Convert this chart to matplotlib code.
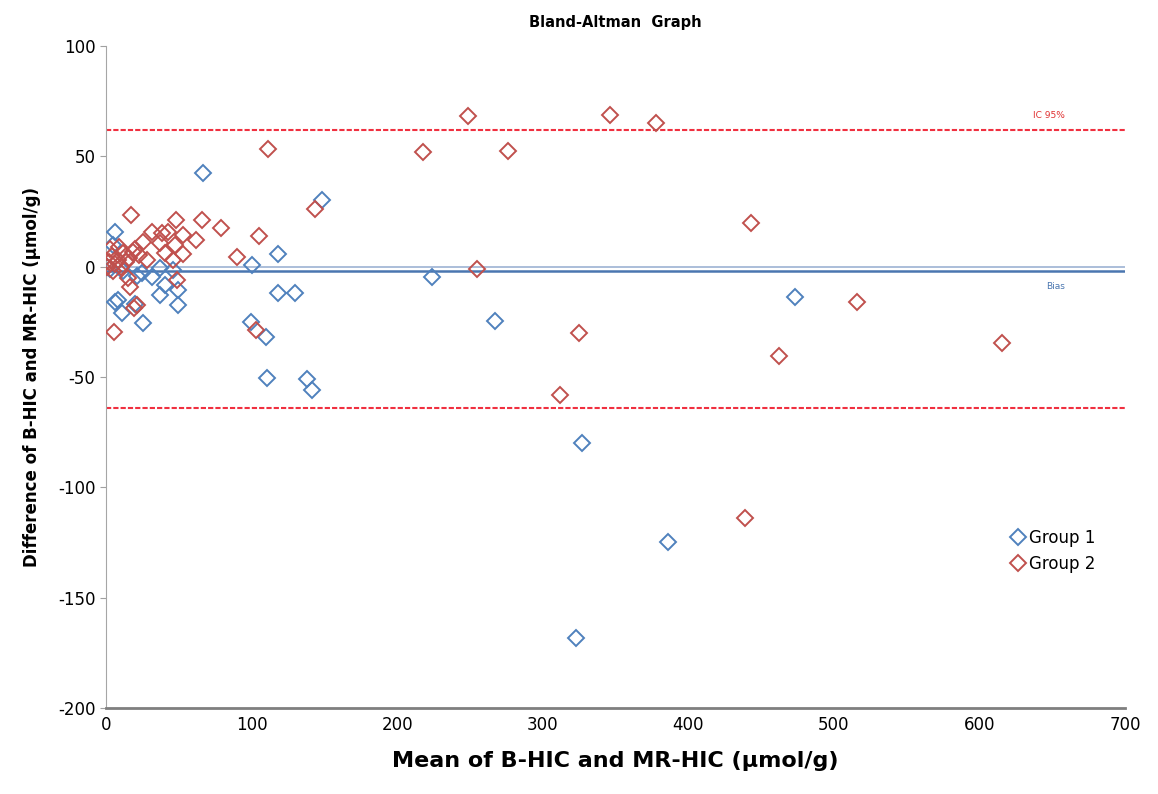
import matplotlib
matplotlib.use("Agg")
import matplotlib.pyplot as plt

plt.rcParams['axes.unicode_minus'] = False

# Group 1 (blue) : mean vs difference
g1_mean = [66.8, 148.6, 6.2, 4.5, 118.3, 100.0, 0.5, 37.0, 46.0, 31.4, 21.0,
           40.5, 49.7, 37.0, 49.7, 8.5, 6.2, 20.0, 10.8, 25.2, 3.0, 12.0, 25.0,
           118.3, 130.0, 99.5, 109.8, 110.9, 138.4, 141.2, 224.0, 267.0,
           473.0, 327.0, 386.0, 323.0]
g1_diff = [42.3, 30.2, 15.9, 10.0, 5.8, 0.8, 0.0, -0.7, -1.5, -4.5, -4.0,
           -8.3, -10.5, -12.8, -17.4, -15.0, -16.0, -17.0, -21.0, -25.4, -1.0, -2.0, -3.0,
           -11.8, -12.0, -25.2, -31.7, -50.6, -51.0, -55.9, -4.5, -24.5,
           -13.9, -80.0, -124.6, -168.1]

# Group 2 (red)
g2_mean = [249.0, 218.0, 276.0, 346.0, 377.5, 111.0, 143.5, 17.0, 48.0, 65.7,
           79.0, 105.3, 89.8, 31.4, 38.2, 42.8, 53.1, 61.8, 25.6, 47.4, 37.1,
           53.1, 40.5, 46.2, 18.8, 11.9, 28.0, 23.0, 2.0, 4.0, 6.0, 8.0, 3.0,
           10.0, 5.0, 14.0, 9.0, 16.0, 20.0, 1.0, 48.5, 16.5, 15.3, 21.0, 19.0,
           5.5, 103.4, 255.0, 443.0, 516.0, 462.0, 615.6, 325.0, 312.0, 439.0]
g2_diff = [68.3, 51.8, 52.6, 68.7, 65.3, 53.5, 26.0, 23.4, 21.2, 21.2,
           17.7, 13.9, 4.5, 15.9, 15.1, 15.9, 14.4, 12.1, 11.3, 9.8, 10.6,
           5.8, 6.1, 3.0, 6.8, 6.1, 3.0, 5.5, 2.0, 5.0, 1.0, 3.0, 8.0,
           0.0, -2.0, 2.0, 9.0, 4.0, 8.0, 0.0, -6.0, -9.0, -5.3, -17.4, -18.9,
           -29.4, -28.7, -1.2, 20.0, -15.9, -40.3, -34.7, -30.2, -58.1, -114.0]

bias = -2.0
upper_loa = 62.0
lower_loa = -64.0

blue = "#4f81bd"
red = "#c0504d"

fig = plt.figure(figsize=(11.58, 7.94), dpi=100)
ax = fig.add_axes([0.0915, 0.1083, 0.88, 0.8337])

ax.plot([0, 700], [0, 0], color="#9db3d3", lw=1.2, zorder=1)
ax.plot([0, 700], [bias, bias], color="#4a76b0", lw=1.8, zorder=1)
ax.plot([0, 700], [upper_loa, upper_loa], color="#f03040", lw=1.5, ls=(0, (2.5, 1)), zorder=1)
ax.plot([0, 700], [lower_loa, lower_loa], color="#f03040", lw=1.5, ls=(0, (2.5, 1)), zorder=1)

ax.plot(g1_mean, g1_diff, ls="none", marker="D", ms=8, mfc="none",
        mec=blue, mew=1.4, label="Group 1", zorder=3)
ax.plot(g2_mean, g2_diff, ls="none", marker="D", ms=8, mfc="none",
        mec=red, mew=1.4, label="Group 2", zorder=3)

ax.text(648, 66.5, "IC 95%", color="#e03030", fontsize=6.5, ha="center", va="bottom")
ax.text(652, -9, "Bias", color="#4a76b0", fontsize=6.5, ha="center", va="center")

ax.set_xlim(0, 700)
ax.set_ylim(-200, 100)
ax.set_xticks(range(0, 701, 100))
ax.set_yticks(range(-200, 101, 50))
ax.tick_params(axis="x", length=0, labelsize=12, pad=6)
ax.tick_params(axis="y", length=4, labelsize=12, color="#a0a0a0", direction="out")

ax.spines["top"].set_visible(False)
ax.spines["right"].set_visible(False)
ax.spines["left"].set_color("#a6a6a6")
ax.spines["bottom"].set_color("#7f7f7f")
ax.spines["bottom"].set_linewidth(2)

ax.set_xlabel("Mean of B-HIC and MR-HIC (µmol/g)", fontsize=16, fontweight="bold", labelpad=12)
ax.set_ylabel("Difference of B-HIC and MR-HIC (µmol/g)", fontsize=12, fontweight="bold", labelpad=12)
ax.set_title("Bland-Altman  Graph", fontsize=10.5, fontweight="bold", pad=14)

ax.legend(loc="center left", bbox_to_anchor=(0.87, 0.237), frameon=False,
          fontsize=12, handletextpad=0.1, labelspacing=0.5, handlelength=1.2)

fig.savefig("out.png", dpi=100)
